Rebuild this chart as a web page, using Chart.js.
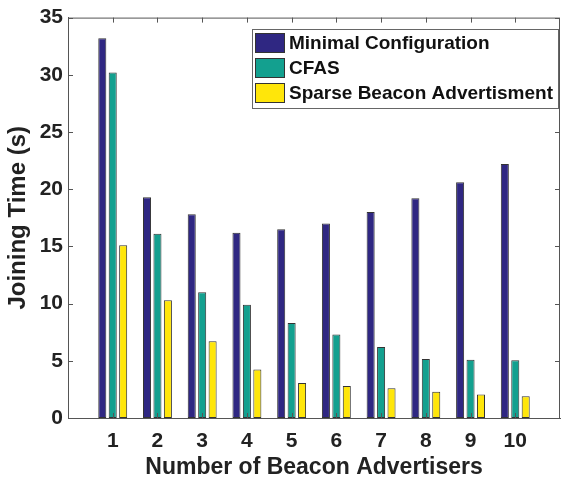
<!DOCTYPE html>
<html>
<head>
<meta charset="utf-8">
<script src="https://cdn.jsdelivr.net/npm/chart.js@4"></script>
<style>
  html, body { margin: 0; padding: 0; background: #fff; }
  #wrap { width: 571px; height: 483px; }
</style>
</head>
<body>
<div id="wrap"><canvas id="chart" width="571" height="483"></canvas></div>
<script>
// --- Data ---
const categories = ['1', '2', '3', '4', '5', '6', '7', '8', '9', '10'];
const minimalConfig = [33.2, 19.3, 17.8, 16.2, 16.5, 17.0, 18.0, 19.2, 20.6, 22.2];
const cfas = [30.2, 16.1, 11.0, 9.9, 8.3, 7.3, 6.2, 5.15, 5.1, 5.05];
const sparseBeacon = [15.1, 10.3, 6.7, 4.25, 3.05, 2.8, 2.6, 2.3, 2.05, 1.9];
const yTicks = [0, 5, 10, 15, 20, 25, 30, 35];

const FONT = "'Liberation Sans', Arial, sans-serif";
const AXIS_COLOR = '#555';

// pad the category axis with an empty slot on each side (MATLAB xlim 0..11)
const labels = [''].concat(categories, ['']);
const pad = (arr) => [null].concat(arr, [null]);

// box + inward tick marks, MATLAB style
const boxPlugin = {
    id: 'box',
    afterDraw(chart) {
        const { ctx, chartArea: a, scales } = chart;
        const len = 5;
        ctx.save();
        ctx.strokeStyle = AXIS_COLOR;
        ctx.lineWidth = 1;
        ctx.strokeRect(a.left + 0.5, a.top + 0.5, a.right - a.left - 1, a.bottom - a.top);
        ctx.beginPath();
        categories.forEach((c, i) => {
            const x = Math.round(scales.x.getPixelForValue(i + 1)) + 0.5;
            ctx.moveTo(x, a.top); ctx.lineTo(x, a.top + len);
            ctx.moveTo(x, a.bottom); ctx.lineTo(x, a.bottom - len);
        });
        yTicks.forEach(v => {
            const y = Math.round(scales.y.getPixelForValue(v)) + 0.5;
            ctx.moveTo(a.left, y); ctx.lineTo(a.left + len, y);
            ctx.moveTo(a.right, y); ctx.lineTo(a.right - len, y);
        });
        ctx.stroke();
        ctx.restore();
    }
};

// legend box inside the plot, top right
const innerLegend = {
    id: 'innerLegend',
    afterDraw(chart) {
        const ctx = chart.ctx;
        const x0 = 252, y0 = 29, w = 306, h = 79;
        const rowH = 25;
        ctx.save();
        ctx.fillStyle = '#fff';
        ctx.fillRect(x0, y0, w, h);
        ctx.strokeStyle = '#666';
        ctx.lineWidth = 1;
        ctx.strokeRect(x0 + 0.5, y0 + 0.5, w, h);
        ctx.font = 'bold 19px ' + FONT;
        ctx.textBaseline = 'middle';
        chart.data.datasets.forEach((ds, i) => {
            const cy = y0 + 14 + i * rowH;
            ctx.fillStyle = ds.backgroundColor;
            ctx.fillRect(x0 + 3, cy - 10, 30, 20);
            ctx.strokeStyle = '#333';
            ctx.strokeRect(x0 + 3.5, cy - 9.5, 29, 19);
            ctx.fillStyle = '#111';
            ctx.fillText(ds.label, x0 + 37, cy + 1);
        });
        ctx.restore();
    }
};

const barStyle = {
    borderColor: '#333',
    borderWidth: 1,
    borderSkipped: false,
    barPercentage: 0.77,
    categoryPercentage: 0.70
};

new Chart(document.getElementById('chart'), {
    type: 'bar',
    data: {
        labels: labels,
        datasets: [
            Object.assign({ label: 'Minimal Configuration', data: pad(minimalConfig), backgroundColor: '#2F2782' }, barStyle),
            Object.assign({ label: 'CFAS', data: pad(cfas), backgroundColor: '#13A08F' }, barStyle),
            Object.assign({ label: 'Sparse Beacon Advertisment', data: pad(sparseBeacon), backgroundColor: '#FFE60A' }, barStyle)
        ]
    },
    options: {
        responsive: false,
        animation: false,
        layout: { padding: { top: 15, right: 1, left: 0, bottom: 0 } },
        plugins: {
            legend: { display: false },
            tooltip: { enabled: false }
        },
        scales: {
            x: {
                offset: false,
                grid: { display: false, drawTicks: false },
                border: { color: AXIS_COLOR },
                ticks: {
                    color: '#222',
                    font: { family: FONT, size: 21, weight: 'bold' },
                    padding: 11,
                    maxRotation: 0,
                    autoSkip: false
                },
                title: {
                    display: true,
                    text: 'Number of Beacon Advertisers',
                    color: '#222',
                    font: { family: FONT, size: 23, weight: 'bold' },
                    padding: { top: 0, bottom: 2 }
                },
                afterFit: (s) => { s.height = 65; }
            },
            y: {
                min: 0,
                max: 35,
                grid: { display: false, drawTicks: false },
                border: { color: AXIS_COLOR },
                afterBuildTicks: (s) => { s.ticks = yTicks.map(v => ({ value: v })); },
                ticks: {
                    color: '#222',
                    font: { family: FONT, size: 21, weight: 'bold' },
                    padding: 5
                },
                title: {
                    display: true,
                    text: 'Joining Time (s)',
                    color: '#222',
                    font: { family: FONT, size: 24, weight: 'bold' },
                    padding: { top: 4, bottom: 0 }
                },
                afterFit: (s) => { s.width = 68; }
            }
        }
    },
    plugins: [boxPlugin, innerLegend]
});
</script>
</body>
</html>
